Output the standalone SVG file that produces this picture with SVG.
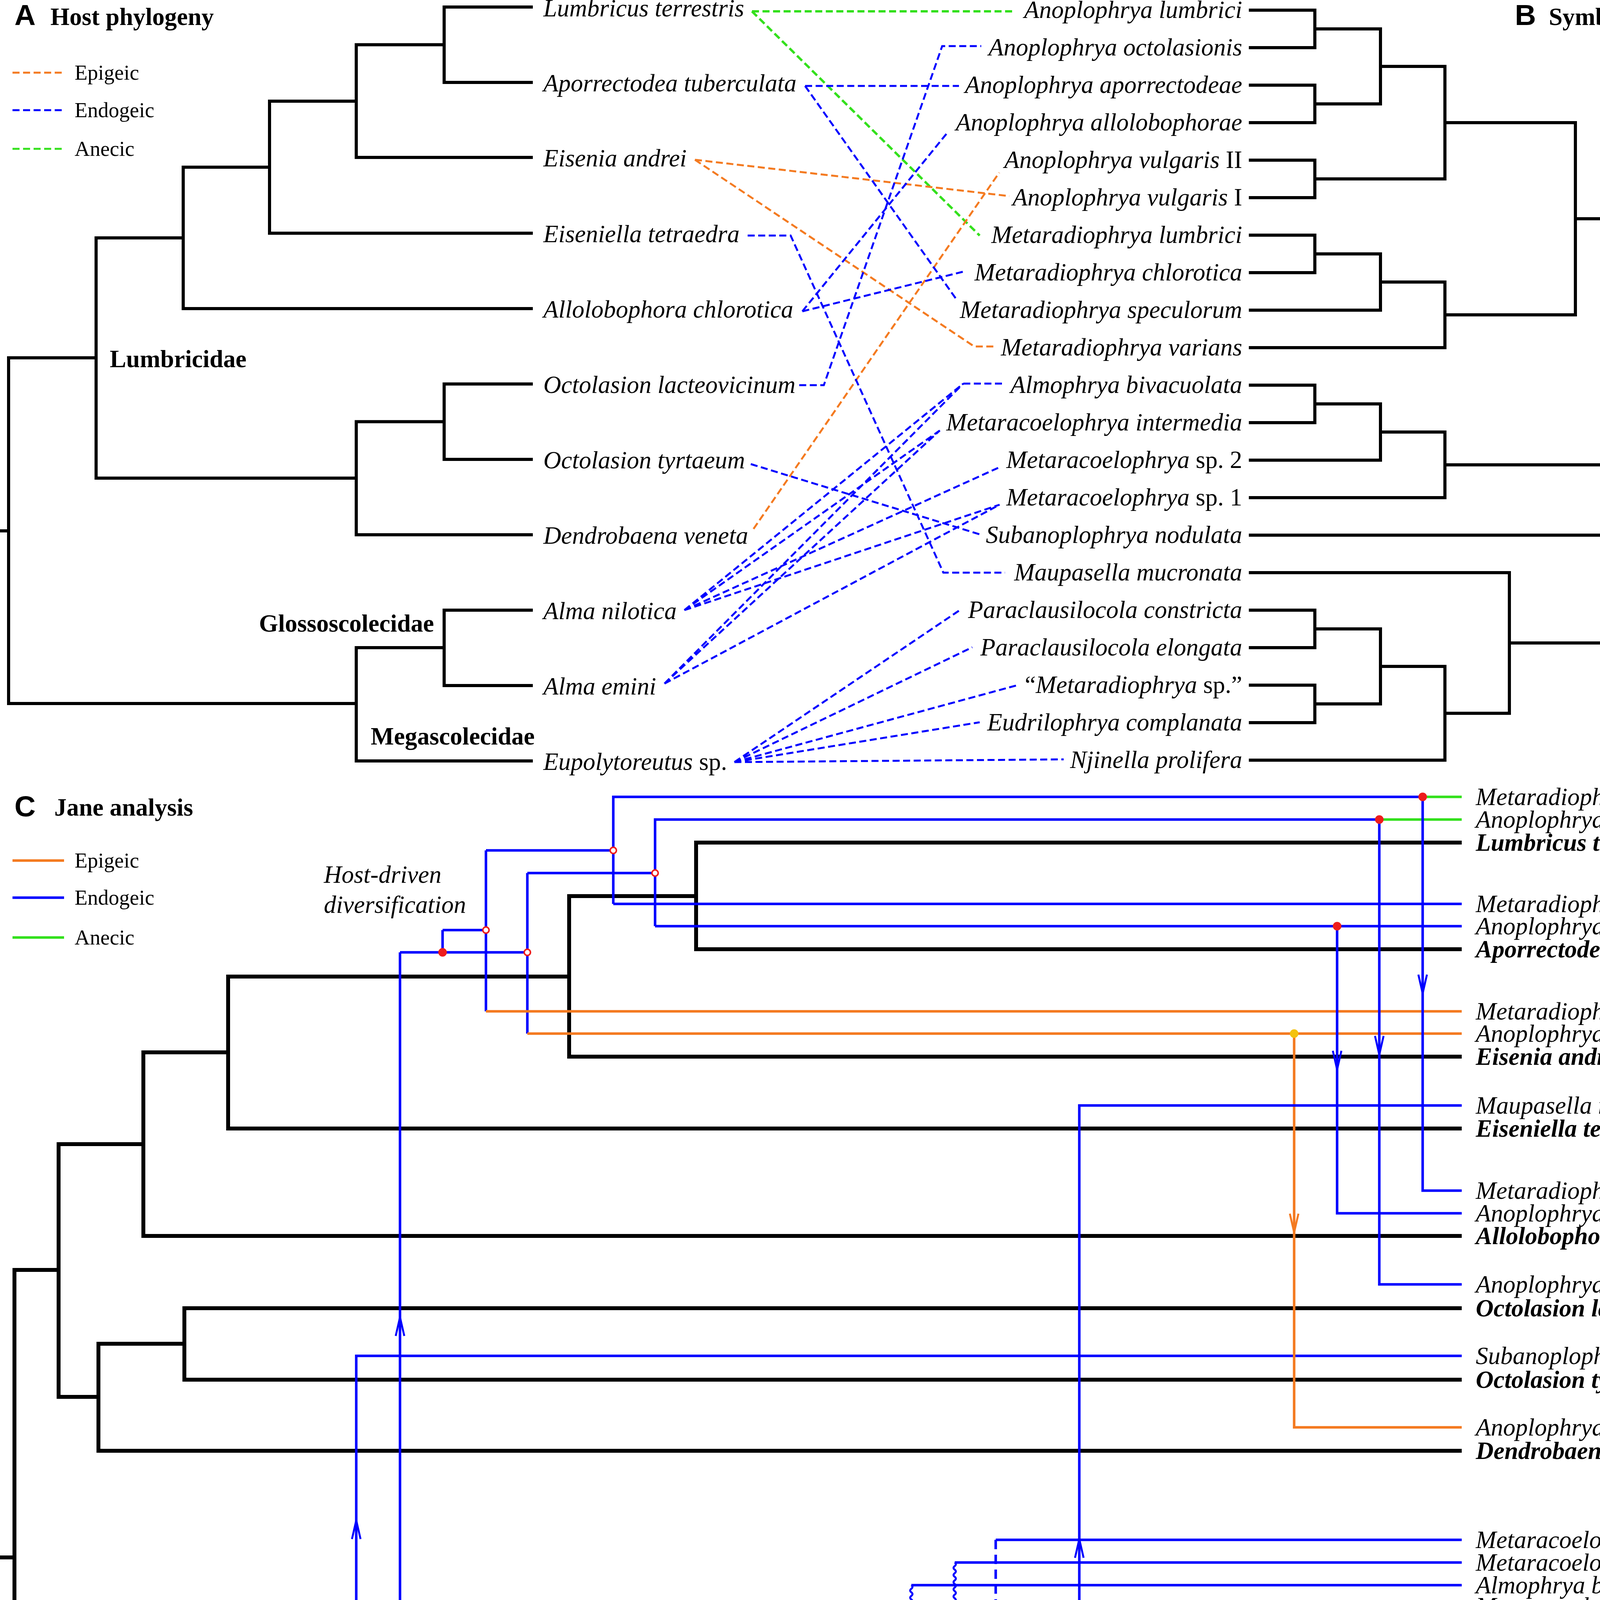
<svg xmlns="http://www.w3.org/2000/svg" width="4550" height="5129" viewBox="0 0 4550 5129">
<style>
.t{font-family:"Liberation Serif","Times New Roman",serif;fill:#000}
.i{font-style:italic}
.n{font-style:normal}
.b{font-weight:bold}
.s63{font-size:63px}
.s54{font-size:54px}
.lt{font-family:"Liberation Sans",Arial,sans-serif;font-weight:bold;font-size:75px}
.tr{fill:none;stroke:#000;stroke-width:8;stroke-linejoin:miter}
.trc{fill:none;stroke:#000;stroke-width:10;stroke-linejoin:miter}
.d{fill:none;stroke-width:5;stroke-dasharray:18 9}
.bl{stroke:#0000ff}
.or{stroke:#f47a20}
.gr{stroke:#33e01c}
.sy{fill:none;stroke-width:6.5;stroke-linejoin:miter}
.ar{fill:none;stroke-width:5;stroke-linejoin:miter}
.rd{fill:#ee1c1c}
.yl{fill:#f4c20d}
.ring{fill:#fff;stroke:#ee1c1c;stroke-width:4}
</style>

<!-- ===== Panel A: host phylogeny ===== -->
<g id="titleA">
<text class="lt" x="37" y="64">A</text>
<text class="t b s63" x="129" y="64">Host phylogeny</text>
</g>
<g id="legendA">
<path class="d or" d="M32 186 H164"/>
<path class="d bl" d="M32 282 H164"/>
<path class="d gr" d="M32 381 H164"/>
<text class="t s54" x="191" y="204">Epigeic</text>
<text class="t s54" x="191" y="300">Endogeic</text>
<text class="t s54" x="191" y="399">Anecic</text>
</g>
<g id="hostTreeA">
<path class="tr" d="M1364 18 H1137 V211 H1364 M1137 114.5 H912 V403 H1364 M912 259 H690 V597 H1364 M690 428 H469 V790 H1364 M469 609 H246 V1224 H912 M1364 983 H1137 V1176 H1364 M1137 1079.5 H912 V1369 H1364 M246 916 H22 V1801 H912 M1364 1562 H1137 V1755 H1364 M1137 1658 H912 V1948 H1364 M0 1359 H22"/>
<text class="t b s63" x="281" y="940">Lumbricidae</text>
<text class="t b s63" x="663" y="1617">Glossoscolecidae</text>
<text class="t b s63" x="949" y="1906">Megascolecidae</text>
</g>
<g id="hostLabelsA" class="t i s63">
<text x="1391" y="42">Lumbricus terrestris</text>
<text x="1391" y="234">Aporrectodea tuberculata</text>
<text x="1391" y="426">Eisenia andrei</text>
<text x="1391" y="620">Eiseniella tetraedra</text>
<text x="1391" y="813">Allolobophora chlorotica</text>
<text x="1391" y="1006">Octolasion lacteovicinum</text>
<text x="1391" y="1199">Octolasion tyrtaeum</text>
<text x="1391" y="1392">Dendrobaena veneta</text>
<text x="1391" y="1585">Alma nilotica</text>
<text x="1391" y="1778">Alma emini</text>
<text x="1391" y="1971">Eupolytoreutus<tspan class="n"> sp.</tspan></text>
</g>

<!-- ===== Panel B: symbiont phylogeny ===== -->
<g id="titleB">
<text class="lt" x="3878" y="64">B</text>
<text class="t b s63" x="3965" y="64">Symbiont phylogeny</text>
</g>
<g id="symbTreeB">
<path class="tr" d="M3197 26 H3366 V122 H3197 M3197 218 H3366 V314 H3197 M3366 74 H3534 V266 H3366 M3197 410 H3366 V506 H3197 M3534 170 H3699 V458 H3366 M3197 602 H3366 V698 H3197 M3366 650 H3534 V794 H3197 M3534 722 H3699 V890 H3197 M3699 314 H4033 V806 H3699 M3197 986 H3366 V1082 H3197 M3366 1034 H3534 V1178 H3197 M3534 1106 H3699 V1274 H3197 M4033 560 H4201 V1190 H3699 M4201 875 H4366 V1370 H3197 M3197 1562 H3366 V1658 H3197 M3197 1754 H3366 V1850 H3197 M3366 1610 H3534 V1802 H3366 M3534 1706 H3699 V1946 H3197 M3699 1826 H3864 V1466 H3197 M4366 1122 H4534 V1646 H3864 M4534 1384 H4550"/>
</g>
<g id="symbLabelsB" class="t i s63" text-anchor="end">
<text x="3180" y="46">Anoplophrya lumbrici</text>
<text x="3180" y="142">Anoplophrya octolasionis</text>
<text x="3180" y="238">Anoplophrya aporrectodeae</text>
<text x="3180" y="334">Anoplophrya allolobophorae</text>
<text x="3180" y="430">Anoplophrya vulgaris<tspan class="n"> II</tspan></text>
<text x="3180" y="526">Anoplophrya vulgaris<tspan class="n"> I</tspan></text>
<text x="3180" y="622">Metaradiophrya lumbrici</text>
<text x="3180" y="718">Metaradiophrya chlorotica</text>
<text x="3180" y="814">Metaradiophrya speculorum</text>
<text x="3180" y="910">Metaradiophrya varians</text>
<text x="3180" y="1006">Almophrya bivacuolata</text>
<text x="3180" y="1102">Metaracoelophrya intermedia</text>
<text x="3180" y="1198">Metaracoelophrya<tspan class="n"> sp. 2</tspan></text>
<text x="3180" y="1294">Metaracoelophrya<tspan class="n"> sp. 1</tspan></text>
<text x="3180" y="1390">Subanoplophrya nodulata</text>
<text x="3180" y="1486">Maupasella mucronata</text>
<text x="3180" y="1582">Paraclausilocola constricta</text>
<text x="3180" y="1678">Paraclausilocola elongata</text>
<text x="3180" y="1774"><tspan class="n">“</tspan>Metaradiophrya<tspan class="n"> sp.”</tspan></text>
<text x="3180" y="1870">Eudrilophrya complanata</text>
<text x="3180" y="1966">Njinella prolifera</text>
</g>

<!-- ===== Panel A-B associations ===== -->
<g id="associations">
<path class="d gr" style="stroke-width:6" d="M1925 29 H2594 M1925 29 L2508 603"/>
<path class="d or" d="M1779 409 L2584 502 M1779 409 L2494 887 H2545 M1929 1354 L2558 442"/>
<path class="d bl" d="M2061 220 H2455 M2061 220 L2451 770 M1914 603 H2024 L2415 1466 H2573 M2054 797 L2472 694 M2054 797 L2425 340 M2046 986 H2109 L2412 118 H2512 M1922 1188 L2515 1370"/>
<path class="d bl" d="M1752 1562 L2466 982 M1752 1562 L2406 1102 M1752 1562 L2559 1196 M1752 1562 L2559 1292 M1701 1750 L2466 982 M1701 1750 L2406 1102 M1701 1750 L2559 1292 M2466 982 H2568"/>
<path class="d bl" d="M1880 1951 L2457 1562 M1880 1951 L2489 1657 M1880 1951 L2601 1755 M1880 1951 L2508 1849 M1880 1951 L2723 1944"/>
</g>

<!-- ===== Panel C: Jane analysis ===== -->
<g id="titleC">
<text class="lt" x="37" y="2090">C</text>
<text class="t b s63" x="139" y="2088">Jane analysis</text>
</g>
<g id="legendC">
<path class="sy or" d="M32 2203 H164"/>
<path class="sy bl" d="M32 2298 H164"/>
<path class="sy gr" d="M32 2400 H164"/>
<text class="t s54" x="191" y="2221">Epigeic</text>
<text class="t s54" x="191" y="2316">Endogeic</text>
<text class="t s54" x="191" y="2418">Anecic</text>
</g>
<g id="hostTreeC">
<path class="trc" d="M3742 2157 H1782 V2430 H3742 M1782 2294 H1457 V2705 H3742 M1457 2500 H584 V2889 H3742 M584 2694 H367 V3164 H3742 M367 2929 H150 V3576 H252 M3742 3349 H472 V3532 H3742 M472 3440 H252 V3714 H3742 M150 3251 H37 V4721 H804 M0 3987 H37 M3742 4173 H2654 V4539 H3742 M2654 4356 H804 V5087 H3742"/>
</g>
<g id="symbTreeC">
<path class="sy bl" d="M1570 2314 V2040 H3642 M1570 2314 H3742 M1677 2371 V2098 H3531 M1677 2371 H3742 M1244 2177 H1570 M1244 2589 V2177 M1350 2235 H1677 M1350 2646 V2235 M1133 2381 H1244 M1133 2381 V2438 M1024 2438 H1350 M1024 2438 V4295 M912 4295 V3471 H3742"/>
<path class="sy gr" d="M3642 2040 H3742 M3531 2098 H3742"/>
<path class="sy or" d="M1244 2589 H3742 M1350 2646 H3742 M3313 2646 V3654 H3742"/>
<path class="sy bl" d="M697 4295 H2224 M697 4295 V5028 H3742 M663 4663 H697 M1893 4295 V4239 H2333 M2004 4239 V4123 H2549 M2112 4239 V4183 H2444 M2549 3942 H3742 M2444 4000 H3742 M2444 4367 H3742 M2333 4058 H3742 M2333 4422 H3742 M2224 4112 H3742 M2224 4478 H3742"/>
<path class="sy bl" style="stroke-dasharray:24 14" d="M2549 3942 V4123"/>
<path class="sy bl" style="stroke-width:5" d="M2224 4112 q6 4.575 0 9.15 t0 9.15 t0 9.15 t0 9.15 t0 9.15 t0 9.15 t0 9.15 t0 9.15 t0 9.15 t0 9.15 t0 9.15 t0 9.15 t0 9.15 t0 9.15 t0 9.15 t0 9.15 t0 9.15 t0 9.15 t0 9.15 t0 9.15 t0 9.15 t0 9.15 t0 9.15 t0 9.15 t0 9.15 t0 9.15 t0 9.15 t0 9.15 t0 9.15 t0 9.15 t0 9.15 t0 9.15 t0 9.15 t0 9.15 t0 9.15 t0 9.15 t0 9.15 t0 9.15 t0 9.15 t0 9.15"/>
<path class="sy bl" style="stroke-width:5" d="M2333 4058 q6 4.575 0 9.15 t0 9.15 t0 9.15 t0 9.15 t0 9.15 t0 9.15 t0 9.15 t0 9.15 t0 9.15 t0 9.15 t0 9.15 t0 9.15 t0 9.15 t0 9.15 t0 9.15 t0 9.15 t0 9.15 t0 9.15 t0 9.15 t0 9.15 t0 9.15 t0 9.15 t0 9.15 t0 9.15 t0 9.15 t0 9.15 t0 9.15 t0 9.15 t0 9.15 t0 9.15 t0 9.15 t0 9.15 t0 9.15 t0 9.15 t0 9.15 t0 9.15 t0 9.15 t0 9.15 t0 9.15 t0 9.15"/>
<path class="sy bl" style="stroke-width:5" d="M2444 4000 q6 4.575 0 9.15 t0 9.15 t0 9.15 t0 9.15 t0 9.15 t0 9.15 t0 9.15 t0 9.15 t0 9.15 t0 9.15 t0 9.15 t0 9.15 t0 9.15 t0 9.15 t0 9.15 t0 9.15 t0 9.15 t0 9.15 t0 9.15 t0 9.15 t0 9.15 t0 9.15 t0 9.15 t0 9.15 t0 9.15 t0 9.15 t0 9.15 t0 9.15 t0 9.15 t0 9.15 t0 9.15 t0 9.15 t0 9.15 t0 9.15 t0 9.15 t0 9.15 t0 9.15 t0 9.15 t0 9.15 t0 9.15"/>
<path class="sy bl" d="M2763 5028 V2830 H3742 M2877 5028 V4800 H3742 M2985 5028 V4914 H3742 M3204 4914 V4856 H3742 M3094 5028 V4970 H3742 M3642 2040 V3048 H3742 M3531 2098 V3288 H3742 M3423 2371 V3106 H3742"/>
</g>
<g id="switchArrows">
<path class="ar bl" d="M3631 2495 L3642 2543 L3653 2495 M3520 2652 L3531 2700 L3542 2652 M3412 2690 L3423 2738 L3434 2690 M2752 3988 L2763 3940 L2774 3988 M1013 3420 L1024 3372 L1035 3420 M901 3940 L912 3892 L923 3940"/>
<path class="ar or" d="M3302 3107 L3313 3155 L3324 3107"/>
</g>
<g id="events">
<circle class="rd" cx="3642" cy="2040" r="11"/>
<circle class="rd" cx="3531" cy="2098" r="11"/>
<circle class="rd" cx="3423" cy="2371" r="11"/>
<circle class="rd" cx="1133" cy="2438" r="11"/>
<circle class="rd" cx="912" cy="4295" r="11"/>
<circle class="rd" cx="1024" cy="4295" r="11"/>
<circle class="rd" cx="2004" cy="4239" r="11"/>
<circle class="rd" cx="2112" cy="4239" r="11"/>
<circle class="rd" cx="2877" cy="5028" r="11"/>
<circle class="rd" cx="2985" cy="5028" r="11"/>
<circle class="rd" cx="3094" cy="5028" r="11"/>
<circle class="rd" cx="3204" cy="4914" r="11"/>
<circle class="yl" cx="3313" cy="2646" r="11"/>
<circle class="yl" cx="1893" cy="4295" r="11"/>
<circle class="yl" cx="2763" cy="5028" r="11"/>
<circle class="ring" cx="1570" cy="2177" r="8"/>
<circle class="ring" cx="1677" cy="2235" r="8"/>
<circle class="ring" cx="1244" cy="2381" r="8"/>
<circle class="ring" cx="1350" cy="2438" r="8"/>
<circle class="ring" style="stroke:#f4c20d" cx="697" cy="4663" r="9"/>
</g>
<g id="annotationsC" class="t i s63">
<text x="829" y="2260">Host-driven</text>
<text x="829" y="2337">diversification</text>
<text x="1386" y="4245">Adaptive radiation</text>
<text x="2242" y="4978">Adaptive radiation</text>
</g>
<g id="labelsC" class="t i s63">
<text x="3778" y="2061">Metaradiophrya lumbrici</text>
<text x="3778" y="2119">Anoplophrya lumbrici</text>
<text class="b" x="3778" y="2178">Lumbricus terrestris</text>
<text x="3778" y="2335">Metaradiophrya speculorum</text>
<text x="3778" y="2392">Anoplophrya aporrectodeae</text>
<text class="b" x="3778" y="2451">Aporrectodea tuberculata</text>
<text x="3778" y="2610">Metaradiophrya varians</text>
<text x="3778" y="2667">Anoplophrya vulgaris<tspan class="n"> I</tspan></text>
<text class="b" x="3778" y="2726">Eisenia andrei</text>
<text x="3778" y="2851">Maupasella mucronata</text>
<text class="b" x="3778" y="2910">Eiseniella tetraedra</text>
<text x="3778" y="3069">Metaradiophrya chlorotica</text>
<text x="3778" y="3127">Anoplophrya allolobophorae</text>
<text class="b" x="3778" y="3185">Allolobophora chlorotica</text>
<text x="3778" y="3309">Anoplophrya octolasionis</text>
<text class="b" x="3778" y="3370">Octolasion lacteovicinum</text>
<text x="3778" y="3492">Subanoplophrya nodulata</text>
<text class="b" x="3778" y="3553">Octolasion tyrtaeum</text>
<text x="3778" y="3675">Anoplophrya vulgaris<tspan class="n"> II</tspan></text>
<text class="b" x="3778" y="3735">Dendrobaena veneta</text>
<text x="3778" y="3963">Metaracoelophrya<tspan class="n"> sp. 2</tspan></text>
<text x="3778" y="4021">Metaracoelophrya intermedia</text>
<text x="3778" y="4079">Almophrya bivacuolata</text>
<text x="3778" y="4133">Metaracoelophrya<tspan class="n"> sp. 1</tspan></text>
<text class="b" x="3778" y="4194">Alma nilotica</text>
<text x="3778" y="4388">Metaracoelophrya intermedia</text>
<text x="3778" y="4443">Almophrya bivacuolata</text>
<text x="3778" y="4499">Metaracoelophrya<tspan class="n"> sp. 1</tspan></text>
<text class="b" x="3778" y="4560">Alma emini</text>
<text x="3778" y="4821">Njinella prolifera</text>
<text x="3778" y="4877">Eudrilophrya complanata</text>
<text x="3778" y="4935"><tspan class="n">“</tspan>Metaradiophrya<tspan class="n"> sp.”</tspan></text>
<text x="3778" y="4991">Paraclausilocola elongata</text>
<text x="3778" y="5049">Paraclausilocola constricta</text>
<text class="b" x="3778" y="5108">Eupolytoreutus<tspan class="n"> sp.</tspan></text>
</g>
<g id="eventLegend">
<circle cx="1110" cy="4534" r="8" fill="#fff" stroke="#000" stroke-width="4"/>
<circle cx="1110" cy="4606" r="10" fill="#000"/>
<circle cx="976" cy="4683" r="9" fill="#000"/>
<path d="M976 4683 H1118 M1097 4666 L1122 4683 L1097 4700" fill="none" stroke="#000" stroke-width="6"/>
<path d="M965 4754 H1122" fill="none" stroke="#000" stroke-width="6" stroke-dasharray="16 8"/>
<polyline points="965,4824 978,4836 991,4824 1004,4836 1017,4824 1030,4836 1043,4824 1056,4836 1069,4824 1082,4836 1095,4824 1108,4836 1121,4824" fill="none" stroke="#000" stroke-width="5"/>
<text class="t s54" x="1163" y="4552">Coevolution (cost: 0.0)</text>
<text class="t s54" x="1163" y="4624">Duplication (cost: 0.0)</text>
<text class="t s54" x="1163" y="4701">Dupl. &amp; host switch (cost: 1.0)</text>
<text class="t s54" x="1163" y="4772">Loss (cost: 1.0)</text>
<text class="t s54" x="1163" y="4848">Failure to diverge (cost: 1.0)</text>
</g>
</svg>
